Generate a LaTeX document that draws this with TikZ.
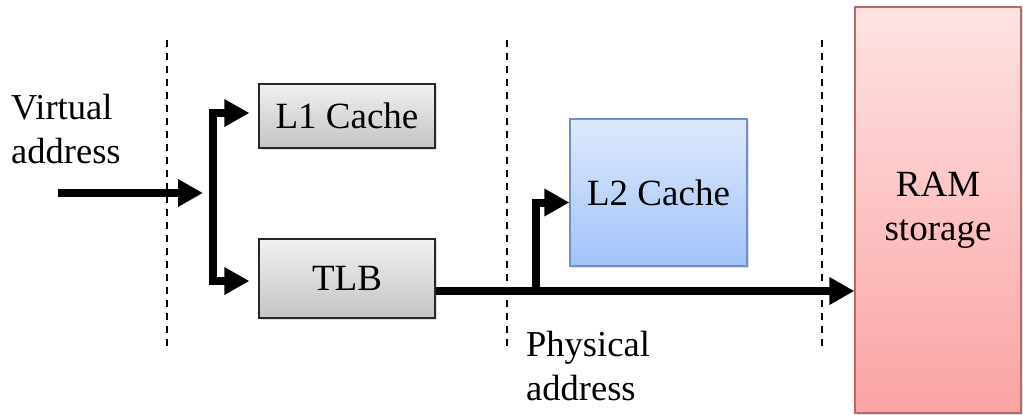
\documentclass[tikz,border=0pt]{standalone}
\usepackage{fontspec}
\setmainfont{Liberation Serif}
\usetikzlibrary{arrows.meta,shadows}
\definecolor{graytop}{HTML}{F0F0F0}
\definecolor{graybot}{HTML}{C4C4C4}
\definecolor{bluetop}{HTML}{DDE9FB}
\definecolor{bluebot}{HTML}{A2C2F9}
\definecolor{blueedge}{HTML}{6F8FC6}
\definecolor{redtop}{HTML}{FEE3E3}
\definecolor{redbot}{HTML}{FBA3A3}
\definecolor{rededge}{HTML}{B46A6A}
\tikzset{
  lbl/.style={font=\fontsize{36.5}{44}\selectfont, inner sep=0pt, align=left},
  box/.style={draw, line width=1.2pt, inner sep=0pt, align=center,
    font=\fontsize{37}{44}\selectfont,
    drop shadow={opacity=0.25, shadow xshift=1.5pt, shadow yshift=-1.5pt}},
  graybox/.style={box, draw=black!85, top color=graytop, bottom color=graybot},
  bluebox/.style={box, draw=blueedge, top color=bluetop, bottom color=bluebot},
  redbox/.style={box, draw=rededge, top color=redtop, bottom color=redbot},
  divider/.style={line width=1.2pt, dash pattern=on 7pt off 6pt},
  flow/.style={line width=8pt, line join=miter, -{Triangle[length=25pt,width=26pt]}},
  bothflow/.style={line width=8pt, line join=miter,
    {Triangle[length=25pt,width=26pt]}-{Triangle[length=25pt,width=26pt]}}
}
\begin{document}
\begin{tikzpicture}[x=1pt,y=-1pt]
\useasboundingbox (0,0) rectangle (1023,415);
% dividers
\coordinate (d1t) at (167,40); \coordinate (d1b) at (167,350);
\coordinate (d2t) at (507,40); \coordinate (d2b) at (507,350);
\coordinate (d3t) at (822,40); \coordinate (d3b) at (822,350);
\draw[divider] (d1t) -- (d1b);
\draw[divider] (d2t) -- (d2b);
\draw[divider] (d3t) -- (d3b);
% boxes
\node[graybox, minimum width=176pt, minimum height=64pt] (l1) at (347,116) {L1 Cache};
\node[graybox, minimum width=176pt, minimum height=79pt] (tlb) at (347,278.5) {TLB};
\node[bluebox, minimum width=177pt, minimum height=147pt] (l2) at (658.5,192.5) {L2 Cache};
\node[redbox, minimum width=166pt, minimum height=406pt] (ram) at (938,210) {RAM\\storage};
% labels (base anchor = baseline of the last line)
\node[lbl, anchor=base west] (va) at (11,163) {Virtual\\address};
\node[lbl, anchor=base west] (pa) at (526,400) {Physical\\address};
% connectors
\coordinate (vin) at (58,193);
\coordinate (vout) at (203,193);
\draw[flow] (vin) -- (vout);
\coordinate (l1tip) at ([xshift=-9pt,yshift=3pt]l1.west);
\coordinate (tlbtip) at ([xshift=-9pt,yshift=-2.5pt]tlb.west);
\draw[bothflow] (l1tip) -| (213,200) |- (tlbtip);
\coordinate (tlbout) at ([yshift=-12.5pt]tlb.east);
\draw[flow] (tlbout) -- (ram.west |- tlbout);
\coordinate (branch) at (536,291);
\draw[flow] (branch) |- ([yshift=-10pt]l2.west);
\end{tikzpicture}
\end{document}
